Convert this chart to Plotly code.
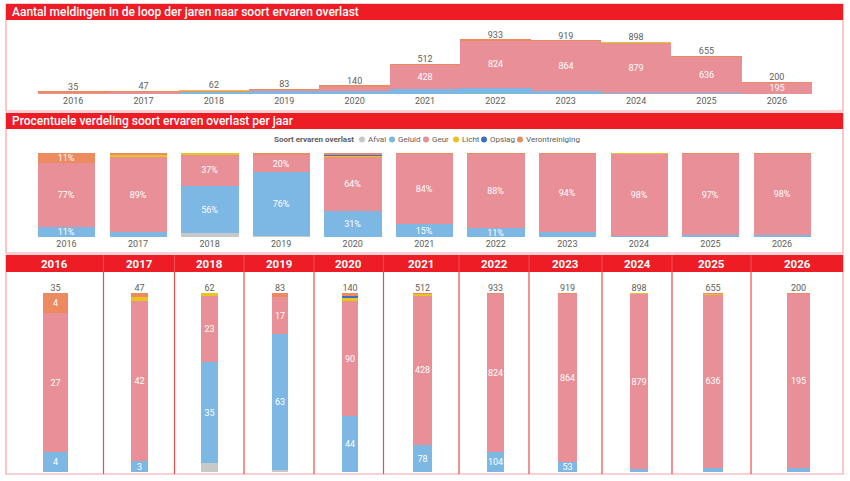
import plotly.graph_objects as go

# ---------------- data ----------------
years = [2016, 2017, 2018, 2019, 2020, 2021, 2022, 2023, 2024, 2025, 2026]
categories = ["Afval", "Geluid", "Geur", "Licht", "Opslag", "Verontreiniging"]
afval = [0, 0, 3, 1, 0, 0, 0, 0, 0, 0, 0]
geluid = [4, 3, 35, 63, 44, 78, 104, 53, 15, 14, 4]
geur = [27, 42, 23, 17, 90, 428, 824, 864, 879, 636, 195]
licht = [0, 1, 1, 0, 2, 4, 1, 0, 4, 3, 0]
opslag = [0, 0, 0, 0, 2, 0, 3, 0, 0, 0, 0]
verontreiniging = [4, 1, 0, 2, 2, 2, 1, 2, 0, 2, 1]

title_top = "Aantal meldingen in de loop der jaren naar soort ervaren overlast"
title_mid = "Procentuele verdeling soort ervaren overlast per jaar"
legend_title = "Soort ervaren overlast"

# ---------------- style ----------------
colors = {"Afval": "#C8C8C8", "Geluid": "#7DB7E4", "Geur": "#E88F98",
          "Licht": "#E8C41F", "Opslag": "#3B6FC4", "Verontreiniging": "#EC8A60"}
RED = "#EE1C25"
PINK = "#F6A3A6"
DIV = "#EC4950"
GRAY = "#605E5C"
FONT = "Roboto"
W, H = 850, 481


def px(x):
    return x / W


def py(y):
    return 1 - y / H


series = [afval, geluid, geur, licht, opslag, verontreiniging]
totals = [sum(v) for v in zip(*series)]

fig = go.Figure()

# ---------------- top: step area (stacked, no gap) ----------------
for name, vals in zip(categories, series):
    txt = [str(v) if (name == "Geur" and v >= 150) else "" for v in vals]
    fig.add_trace(go.Bar(
        x=years, y=vals, name=name, width=1,
        marker=dict(color=colors[name], line=dict(width=0)),
        text=txt, textposition="inside", insidetextanchor="middle",
        constraintext="none", textangle=0,
        textfont=dict(color="white", size=9, family=FONT),
        xaxis="x", yaxis="y", showlegend=False))
fig.add_trace(go.Scatter(
    x=years, y=totals, mode="text", text=[str(t) for t in totals],
    textposition="top center", cliponaxis=False,
    textfont=dict(size=9, color=GRAY, family=FONT),
    xaxis="x", yaxis="y", showlegend=False, hoverinfo="skip"))

# ---------------- middle: 100% stacked ----------------
for name, vals in zip(categories, series):
    frac = [v / t for v, t in zip(vals, totals)]
    txt = [f"{round(f * 100)}%" if f >= 0.095 else "" for f in frac]
    fig.add_trace(go.Bar(
        x=years, y=frac, name=name, width=0.8,
        marker=dict(color=colors[name], line=dict(width=0)),
        text=txt, textposition="inside", insidetextanchor="middle",
        constraintext="none", textangle=0,
        textfont=dict(color="white", size=9, family=FONT),
        xaxis="x2", yaxis="y2", showlegend=False))

# ---------------- bottom: small multiples ----------------
bar_ext = [(43, 68), (131, 148), (201, 218), (272, 288), (342, 358), (413, 432),
           (487, 504), (558, 577), (630, 648), (703, 723), (787, 810)]
panel_edges = [6, 103.5, 174.5, 244, 314, 383.5, 459, 529, 602, 672, 751, 843]

layout_axes = {}
for i, yr in enumerate(years):
    k = i + 3
    t = totals[i]
    for name, vals in zip(categories, series):
        v = vals[i]
        fig.add_trace(go.Bar(
            x=[0], y=[v], name=name, width=1,
            marker=dict(color=colors[name], line=dict(width=0)),
            text=[str(v) if v / t >= 0.055 else ""], textposition="inside",
            insidetextanchor="middle", constraintext="none", textangle=0,
            textfont=dict(color="white", size=9, family=FONT),
            xaxis=f"x{k}", yaxis=f"y{k}", showlegend=False))
    fig.add_trace(go.Scatter(
        x=[0], y=[t], mode="text", text=[str(t)], textposition="top center",
        cliponaxis=False, textfont=dict(size=9, color=GRAY, family=FONT),
        xaxis=f"x{k}", yaxis=f"y{k}", showlegend=False, hoverinfo="skip"))
    l, r = bar_ext[i]
    layout_axes[f"xaxis{k}"] = dict(domain=[px(l), px(r)], range=[-0.5, 0.5],
                                    visible=False, anchor=f"y{k}")
    layout_axes[f"yaxis{k}"] = dict(domain=[py(472), py(293)], range=[0, t],
                                    visible=False, anchor=f"x{k}")

# ---------------- shapes ----------------
shapes = []
for (y0, y1) in [(4, 111), (113, 253), (255, 474)]:
    shapes.append(dict(type="rect", xref="paper", yref="paper",
                       x0=px(6), x1=px(843), y0=py(y1), y1=py(y0),
                       line=dict(color=PINK, width=1.2), layer="below"))
for (y0, y1) in [(4, 20), (113, 129), (255, 272)]:
    shapes.append(dict(type="rect", xref="paper", yref="paper",
                       x0=px(6), x1=px(843), y0=py(y1), y1=py(y0),
                       fillcolor=RED, line=dict(width=0), layer="below"))
for xe in panel_edges[1:-1]:
    shapes.append(dict(type="line", xref="paper", yref="paper",
                       x0=px(xe), x1=px(xe), y0=py(474), y1=py(255),
                       line=dict(color=DIV, width=1.2)))

# ---------------- annotations ----------------
ann = []
ann.append(dict(text=title_top, xref="paper", yref="paper", x=px(10), y=py(12.5),
                xanchor="left", yanchor="middle", showarrow=False,
                font=dict(color="white", size=12, family=FONT, weight=500)))
ann.append(dict(text=title_mid, xref="paper", yref="paper", x=px(10), y=py(121.5),
                xanchor="left", yanchor="middle", showarrow=False,
                font=dict(color="white", size=12, family=FONT, weight=500)))
for i, yr in enumerate(years):
    cx = (panel_edges[i] + panel_edges[i + 1]) / 2
    ann.append(dict(text=f"<b>{yr}</b>", xref="paper", yref="paper", x=px(cx), y=py(263.5),
                    xanchor="center", yanchor="middle", showarrow=False,
                    font=dict(color="white", size=11.5, family=FONT)))

# legend (title + dot + label per category)
LEG_Y = 139.5
LEG_SIZE = 8
ann.append(dict(text=f"<b>{legend_title}</b>", xref="paper", yref="paper",
                x=px(272), y=py(LEG_Y), xanchor="left", yanchor="middle",
                showarrow=False, font=dict(color=GRAY, size=LEG_SIZE, family=FONT)))
legend_dot_x = [362, 392, 426, 456, 484, 520]
for name, dx in zip(categories, legend_dot_x):
    shapes.append(dict(type="circle", xref="paper", yref="paper",
                       x0=px(dx - 3), x1=px(dx + 3), y0=py(LEG_Y + 3), y1=py(LEG_Y - 3),
                       fillcolor=colors[name], line=dict(width=0)))
    ann.append(dict(text=name, xref="paper", yref="paper", x=px(dx + 4), y=py(LEG_Y),
                    xanchor="left", yanchor="middle", showarrow=False,
                    font=dict(color=GRAY, size=LEG_SIZE, family=FONT)))

fig.update_layout(
    width=W, height=H, margin=dict(l=0, r=0, t=0, b=0),
    paper_bgcolor="white", plot_bgcolor="rgba(0,0,0,0)",
    barmode="stack", bargap=0, showlegend=False,
    font=dict(family=FONT, color=GRAY),
    xaxis=dict(domain=[px(38), px(812)], range=[2015.5, 2026.5], tickvals=years,
               ticktext=[str(y) for y in years], showgrid=False, zeroline=False,
               showline=False, ticks="", tickfont=dict(size=9, color=GRAY), anchor="y"),
    yaxis=dict(domain=[py(94), py(28)], range=[0, 1140], visible=False, anchor="x"),
    xaxis2=dict(domain=[px(30.7), px(817.8)], range=[2015.5, 2026.5], tickvals=years,
                ticktext=[str(y) for y in years], showgrid=False, zeroline=False,
                showline=False, ticks="", tickfont=dict(size=9, color=GRAY), anchor="y2"),
    yaxis2=dict(domain=[py(237), py(153)], range=[0, 1], visible=False, anchor="x2"),
    shapes=shapes, annotations=ann,
    **layout_axes,
)

fig.write_html("out.html")
